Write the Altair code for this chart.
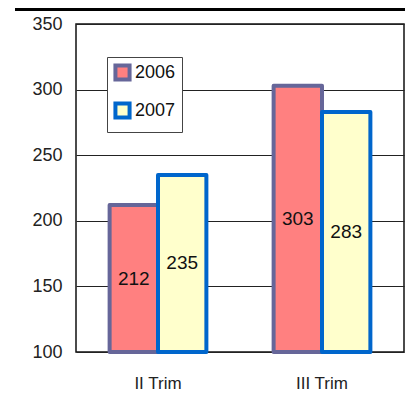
import altair as alt
import pandas as pd

categories = ["II Trim", "III Trim"]
years = ["2006", "2007"]
values_2006 = [212, 303]
values_2007 = [235, 283]

rows = []
for i, c in enumerate(categories):
    rows.append({"cat": c, "year": "2006", "value": values_2006[i]})
    rows.append({"cat": c, "year": "2007", "value": values_2007[i]})
df = pd.DataFrame(rows)

FONT = "Liberation Sans"

xscale = alt.Scale(domain=categories, paddingInner=0.41, paddingOuter=0.205)
yscale = alt.Scale(domain=[100, 350], zero=False, nice=False)

base = alt.Chart(df).encode(
    x=alt.X("cat:N", scale=xscale, sort=categories,
            axis=alt.Axis(title=None, labelAngle=0, ticks=False, domain=False,
                          labelFontSize=17, labelFont=FONT, labelColor="#222",
                          labelPadding=23, grid=False)),
    xOffset=alt.XOffset("year:N", sort=years),
)

bars = base.mark_bar(strokeWidth=4, strokeJoin="round").encode(
    y=alt.Y("value:Q", scale=yscale,
            axis=alt.Axis(title=None, values=[100, 150, 200, 250, 300, 350],
                          ticks=False, domain=False, labelFontSize=18, labelFont=FONT,
                          labelColor="#222", labelPadding=14, grid=True,
                          gridColor="#222", gridWidth=1, gridOpacity=1)),
    y2=alt.datum(100),
    color=alt.Color("year:N", scale=alt.Scale(domain=years, range=["#FF8080", "#FFFFCC"]),
                    legend=alt.Legend(title=None, orient="none", legendX=31, legendY=33,
                                      symbolType="square", symbolSize=200,
                                      symbolStrokeWidth=4, labelFontSize=18, labelFont=FONT,
                                      labelColor="#111", rowPadding=7, padding=6,
                                      strokeColor="#444", fillColor="white",
                                      symbolOpacity=1, labelOffset=3)),
    stroke=alt.Stroke("year:N", scale=alt.Scale(domain=years, range=["#666699", "#0066CC"]),
                      legend=None),
)

labels = base.mark_text(fontSize=19, font=FONT, color="#111").transform_calculate(
    mid="(datum.value + 100) / 2"
).encode(
    y=alt.Y("mid:Q", scale=yscale),
    text=alt.Text("value:Q"),
)

topline = alt.Chart(df).mark_rule(color="black", strokeWidth=3).encode(
    x=alt.value(-61), x2=alt.value(340), y=alt.value(-14.5), y2=alt.value(-14.5)
)

chart = alt.layer(bars, labels, topline).properties(
    width=328, height=328,
    autosize=alt.AutoSizeParams(type="none"),
    padding={"left": 68, "top": 16, "right": 1, "bottom": 40},
).configure_view(stroke="#111", strokeWidth=1.5)

chart.save("out.html", embed_options={"renderer": "svg", "actions": False})
